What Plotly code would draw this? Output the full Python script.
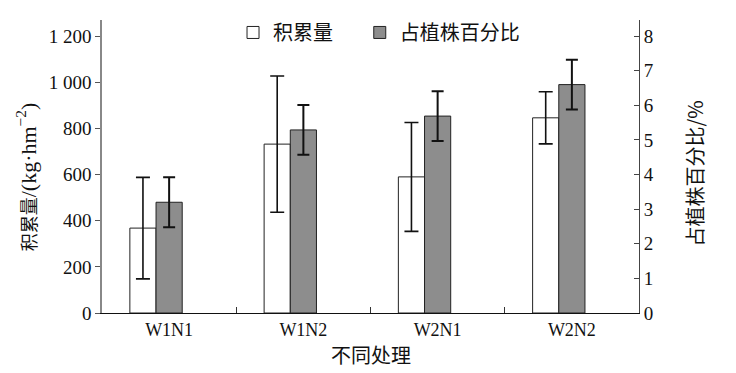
import plotly.graph_objects as go

categories = ["W1N1", "W1N2", "W2N1", "W2N2"]
accum = [368, 732, 590, 846]
accum_err = [220, 295, 236, 113]
pct = [3.2, 5.29, 5.69, 6.6]
pct_err = [0.72, 0.72, 0.72, 0.72]

left_tickvals = [0, 200, 400, 600, 800, 1000, 1200]
left_ticktext = ["0", "200", "400", "600", "800", "1 000", "1 200"]
right_tickvals = [0, 1, 2, 3, 4, 5, 6, 7, 8]
right_ticktext = [str(v) for v in right_tickvals]

SERIF = "Liberation Serif, Times New Roman, Noto Sans CJK SC"
CJK = "Noto Sans CJK SC, Liberation Serif"

fig = go.Figure()
fig.add_trace(go.Bar(
    x=categories, y=accum, name="积累量",
    width=0.195, offset=-0.2925,
    marker=dict(color="white", line=dict(color="#222", width=1)),
    error_y=dict(type="data", array=accum_err, color="#111", thickness=1.6, width=7),
    yaxis="y", legend="legend",
))
fig.add_trace(go.Bar(
    x=categories, y=pct, name="占植株百分比",
    width=0.195, offset=-0.0975,
    marker=dict(color="#8d8d8d", line=dict(color="#222", width=1)),
    error_y=dict(type="data", array=pct_err, color="#111", thickness=2, width=6),
    yaxis="y2", legend="legend2",
))

legend_style = dict(orientation="h", yanchor="top", xanchor="left",
                    font=dict(family=CJK, size=20, color="#111"),
                    bgcolor="rgba(0,0,0,0)", itemwidth=30)

fig.update_layout(
    width=736, height=373,
    margin=dict(l=102, r=97, t=20, b=60, autoexpand=False),
    paper_bgcolor="white", plot_bgcolor="white",
    barmode="overlay",
    showlegend=True,
    legend=dict(x=0.244, y=1.024, **legend_style),
    legend2=dict(x=0.480, y=1.024, **legend_style),
    xaxis=dict(type="category", showline=True, linecolor="#111", linewidth=1,
               ticks="inside", ticklen=6, tickcolor="#333", tickson="boundaries",
               tickfont=dict(family=SERIF, size=18, color="#111"),
               showgrid=False, mirror=False, automargin=False),
    yaxis=dict(range=[0, 1270], showline=True, linecolor="#888", linewidth=1.5,
               tickvals=left_tickvals, ticktext=left_ticktext,
               ticks="outside", ticklen=5, tickcolor="#555",
               tickfont=dict(family=SERIF, size=19, color="#111"),
               showgrid=False, zeroline=False, automargin=False),
    yaxis2=dict(range=[0, 1270 / 150], overlaying="y", side="right",
                showline=True, linecolor="#444", linewidth=1,
                tickvals=right_tickvals, ticktext=right_ticktext,
                ticks="inside", ticklen=5, tickcolor="#444",
                tickfont=dict(family=SERIF, size=19, color="#111"),
                showgrid=False, zeroline=False, automargin=False),
    annotations=[
        dict(text="<span style='font-family:Noto Sans CJK SC;font-size:18px'>积累量</span>/(kg·hm<sup>−2</sup>)",
             xref="paper", yref="paper",
             x=-0.14, y=0.466, textangle=-90, showarrow=False,
             font=dict(family=SERIF, size=22, color="#111"),
             xanchor="center", yanchor="middle"),
        dict(text="占植株百分比/%", xref="paper", yref="paper",
             x=1.103, y=0.477, textangle=-90, showarrow=False,
             font=dict(family=CJK, size=20, color="#111"),
             xanchor="center", yanchor="middle"),
        dict(text="不同处理", xref="paper", yref="paper",
             x=0.5, y=-0.143, showarrow=False,
             font=dict(family=CJK, size=20, color="#111"),
             xanchor="center", yanchor="middle"),
    ],
)

fig.write_html("out.html", config={"displayModeBar": False},
               post_script="document.body.style.margin='0px';")
